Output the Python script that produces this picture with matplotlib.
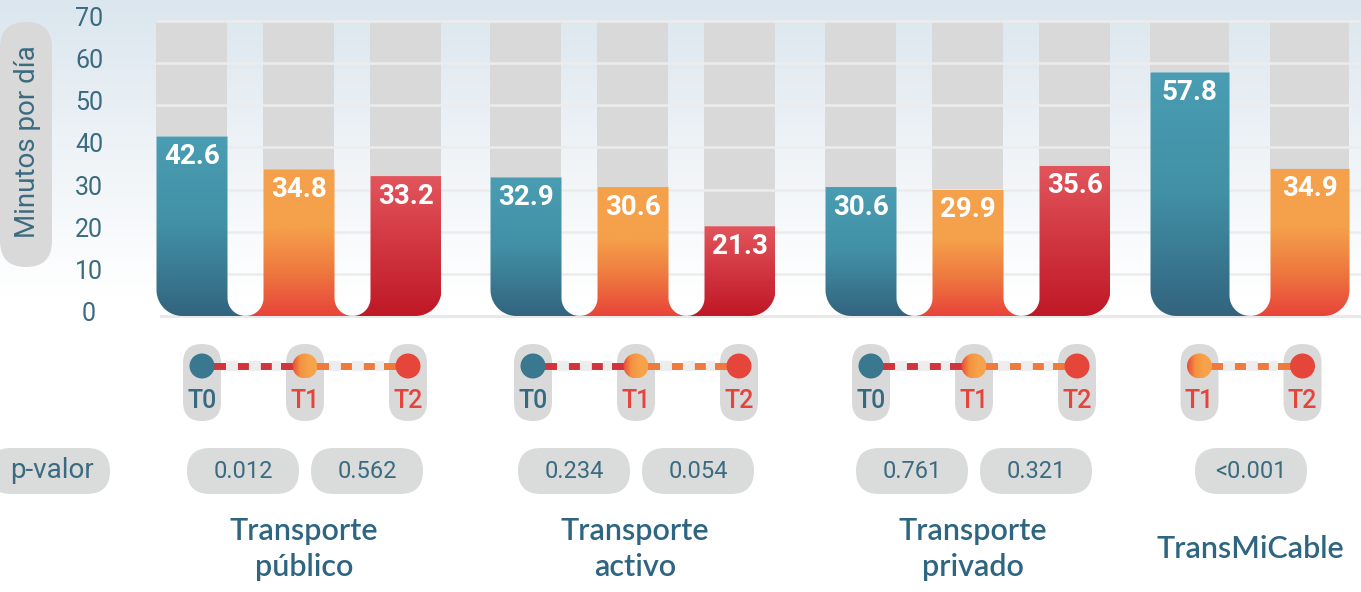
import numpy as np
import matplotlib
matplotlib.use("Agg")
import matplotlib.pyplot as plt
from matplotlib.patches import FancyBboxPatch, Circle, Rectangle
from matplotlib.path import Path
from matplotlib.colors import LinearSegmentedColormap

# ---------------- data ----------------
groups = ["Transporte\npúblico", "Transporte\nactivo", "Transporte\nprivado", "TransMiCable"]
time_labels = [["T0", "T1", "T2"], ["T0", "T1", "T2"], ["T0", "T1", "T2"], ["T1", "T2"]]
bar_kinds = [["teal", "orange", "red"], ["teal", "orange", "red"], ["teal", "orange", "red"], ["teal", "orange"]]
values = [[42.6, 34.8, 33.2], [32.9, 30.6, 21.3], [30.6, 29.9, 35.6], [57.8, 34.9]]
p_values = [["0.012", "0.562"], ["0.234", "0.054"], ["0.761", "0.321"], ["<0.001"]]
y_ticks = [0, 10, 20, 30, 40, 50, 60, 70]
y_max = 70
y_label = "Minutos por día"
p_label = "p-valor"

# ---------------- layout / style ----------------
W, H = 1361, 592
BAR_CENTERS = [299, 633, 968, 1250]
BAR_STEP = [107, 107, 107, 120]
BAR_W = [71, 71, 71, 79]
TL_CENTERS = [305, 636, 974, 1251]
TL_STEP = 103
PV_OFF = 62
BASE_PX = 316
TOP_PX = 21
PPU = (BASE_PX - TOP_PX) / y_max
AX_BOTTOM_PX = 330

TEXT_C = "#3b6b80"
TITLE_C = "#2e6580"
PILL_C = "#d9d9d9"
TRACK_C = "#d9d9d9"
GRID_C = "#ececec"

cmaps = {
    "teal": LinearSegmentedColormap.from_list("teal", [(0, "#33647e"), (0.5, "#4190a6"), (1, "#4a9db2")]),
    "orange": LinearSegmentedColormap.from_list("orange", [(0, "#e8443a"), (0.3, "#ee783f"), (0.6, "#f5a04a"), (1, "#f5a14b")]),
    "red": LinearSegmentedColormap.from_list("red", [(0, "#bf1826"), (0.5, "#d13640"), (1, "#e2555c")]),
}
DOT_C = {"T0": "#3a7890", "T2": "#e6453a"}
TLAB_C = {"T0": "#346a82", "T1": "#e5443a", "T2": "#e5443a"}
SEG_C = {"T1": "#d1353b", "T2": "#ee7a3e"}

plt.rcParams["lines.scale_dashes"] = False
FONT = ["Roboto", "DejaVu Sans"]

fig = plt.figure(figsize=(W / 100, H / 100), dpi=100)

# background gradient
ax_bg = fig.add_axes([0, 0, 1, 1], zorder=0)
ax_bg.set_xlim(0, W)
ax_bg.set_ylim(H, 0)
ax_bg.axis("off")
bg = LinearSegmentedColormap.from_list("bg", [(0, "#dbe6ee"), (0.25, "#eef3f7"), (0.5, "#ffffff"), (1, "#ffffff")])
grad = np.linspace(0, 1, 256).reshape(-1, 1)
ax_bg.imshow(grad, cmap=bg, extent=[0, W, H, 0], aspect="auto", origin="upper")

# bar axes (x in pixels, y in minutes)
ax = fig.add_axes([0, 1 - AX_BOTTOM_PX / H, 1, AX_BOTTOM_PX / H], zorder=1)
ax.patch.set_visible(False)
ax.axis("off")
ax.set_xlim(0, W)
ax.set_ylim(-(AX_BOTTOM_PX - BASE_PX) / PPU, y_max + TOP_PX / PPU)

first_left = BAR_CENTERS[0] - (len(values[0]) - 1) / 2 * BAR_STEP[0] - BAR_W[0] / 2

# grid lines
for t in y_ticks[1:]:
    ax.plot([first_left, W], [t, t], color=GRID_C, lw=1.8, zorder=2, solid_capstyle="butt")
ax.plot([first_left + 5, W], [0, 0], color="#e9e9e9", lw=2.2, zorder=0.5)

# tick labels
for t in y_ticks:
    ax.text(89, t + 2 / PPU, str(t), ha="center", va="center", fontsize=18,
            color=TEXT_C, family=FONT, zorder=5)


def arc(cx, cy, rx, ry, a0, a1, n=20):
    a = np.radians(np.linspace(a0, a1, n))
    return list(zip(cx + rx * np.cos(a), cy + ry * np.sin(a)))


for g, vals in enumerate(values):
    n = len(vals)
    bw = BAR_W[g]
    step = BAR_STEP[g]
    gap = step - bw
    rxn = gap / 2
    ryn = rxn / PPU
    rxo = 26
    ryo = rxo / PPU
    for i, v in enumerate(vals):
        c = BAR_CENTERS[g] + (i - (n - 1) / 2) * step
        L, R = c - bw / 2, c + bw / 2
        # gray track
        ax.add_patch(Rectangle((L, v), bw, y_max - v, facecolor=TRACK_C, edgecolor="none", zorder=1))
        # clip path of colored bar
        pts = [(L, v)]
        if i == 0:
            pts += [(L, ryo)] + arc(L + rxo, ryo, rxo, ryo, 180, 270)
        else:
            pts += [(L, ryn)] + arc(L - rxn, ryn, rxn, ryn, 0, -90)
        if i == n - 1:
            pts += [(R - rxo, 0)] + arc(R - rxo, ryo, rxo, ryo, 270, 360)
        else:
            pts += [(R + rxn, 0)] + arc(R + rxn, ryn, rxn, ryn, 270, 180)
        pts += [(R, v), (L, v)]
        path = Path(pts, closed=True)
        ext_l = L - (rxn if i > 0 else 0)
        ext_r = R + (rxn if i < n - 1 else 0)
        im = ax.imshow(grad, cmap=cmaps[bar_kinds[g][i]], origin="lower",
                       extent=[ext_l, ext_r, 0, v], aspect="auto", zorder=3,
                       interpolation="bilinear")
        im.set_clip_path(path, transform=ax.transData)
        ax.text(c, v - 20 / PPU, f"{v:.1f}", ha="center", va="center", color="white",
                fontsize=20, fontweight="bold", family=FONT, zorder=6)

ax.set_xlim(0, W)
ax.set_ylim(-(AX_BOTTOM_PX - BASE_PX) / PPU, y_max + TOP_PX / PPU)

# overlay axes in pixel coordinates
ao = fig.add_axes([0, 0, 1, 1], zorder=2)
ao.patch.set_visible(False)
ao.axis("off")
ao.set_xlim(0, W)
ao.set_ylim(H, 0)


def pill(x, y, w, h, color=PILL_C, z=2):
    ao.add_patch(FancyBboxPatch((x, y), w, h, boxstyle=f"round,pad=0,rounding_size={min(w, h) / 2}",
                                facecolor=color, edgecolor="none", zorder=z))


# y label
pill(0, 22, 52, 245)
ao.text(28, 142, y_label, rotation=90, ha="center", va="center", fontsize=20,
        color=TEXT_C, family=FONT, zorder=5)

# timelines
DOT_Y = 366
for g, labs in enumerate(time_labels):
    n = len(labs)
    xs = [TL_CENTERS[g] + (i - (n - 1) / 2) * TL_STEP for i in range(n)]
    for x in xs:
        pill(x - 19, 344, 38, 77)
    for i in range(n - 1):
        x0, x1 = xs[i], xs[i + 1]
        ao.plot([x0, x1], [DOT_Y, DOT_Y], color=SEG_C[labs[i + 1]], lw=5, zorder=3,
                solid_capstyle="butt")
        ao.plot([x0 + 24, x1 - 24], [DOT_Y, DOT_Y], color="#ededed", lw=7.5, zorder=3.5,
                linestyle=(0, (8.6, 7.9)), dash_capstyle="butt")
    for x, lab in zip(xs, labs):
        if lab == "T1":
            circ = Circle((x, DOT_Y), 12.5, transform=ao.transData)
            im = ao.imshow(np.linspace(0, 1, 64).reshape(1, -1),
                           cmap=LinearSegmentedColormap.from_list("t1", ["#e9493a", "#f3923f", "#f6a34b", "#f6a34b"]),
                           extent=[x - 12.5, x + 12.5, DOT_Y + 12.5, DOT_Y - 12.5],
                           aspect="auto", zorder=4, interpolation="bilinear")
            im.set_clip_path(circ)
        else:
            ao.add_patch(Circle((x, DOT_Y), 12.5, facecolor=DOT_C[lab], edgecolor="none", zorder=4))
        ao.text(x, 401, lab, ha="center", va="center", fontsize=18, color=TLAB_C[lab],
                family=FONT, fontweight="medium", zorder=5)

# p-values
pill(-12, 448, 122, 46, color="#dadbdb")
ao.text(52, 471, p_label, ha="center", va="center", fontsize=20, color=TEXT_C, family=FONT, zorder=5)
for g, pv in enumerate(p_values):
    n = len(pv)
    for i, s in enumerate(pv):
        x = TL_CENTERS[g] + (i - (n - 1) / 2) * 2 * PV_OFF
        pill(x - 56, 448, 112, 46, color="#dadbdb")
        ao.text(x, 472, s, ha="center", va="center", fontsize=17, color=TEXT_C, family=FONT, zorder=5)

# group titles
for g, name in enumerate(groups):
    ao.text(TL_CENTERS[g] - 1, 549, name, ha="center", va="center", fontsize=22,
            color=TITLE_C, family=["Lato", "DejaVu Sans"], fontweight="semibold",
            linespacing=1.35, zorder=5)

fig.savefig("out.png", dpi=100)
